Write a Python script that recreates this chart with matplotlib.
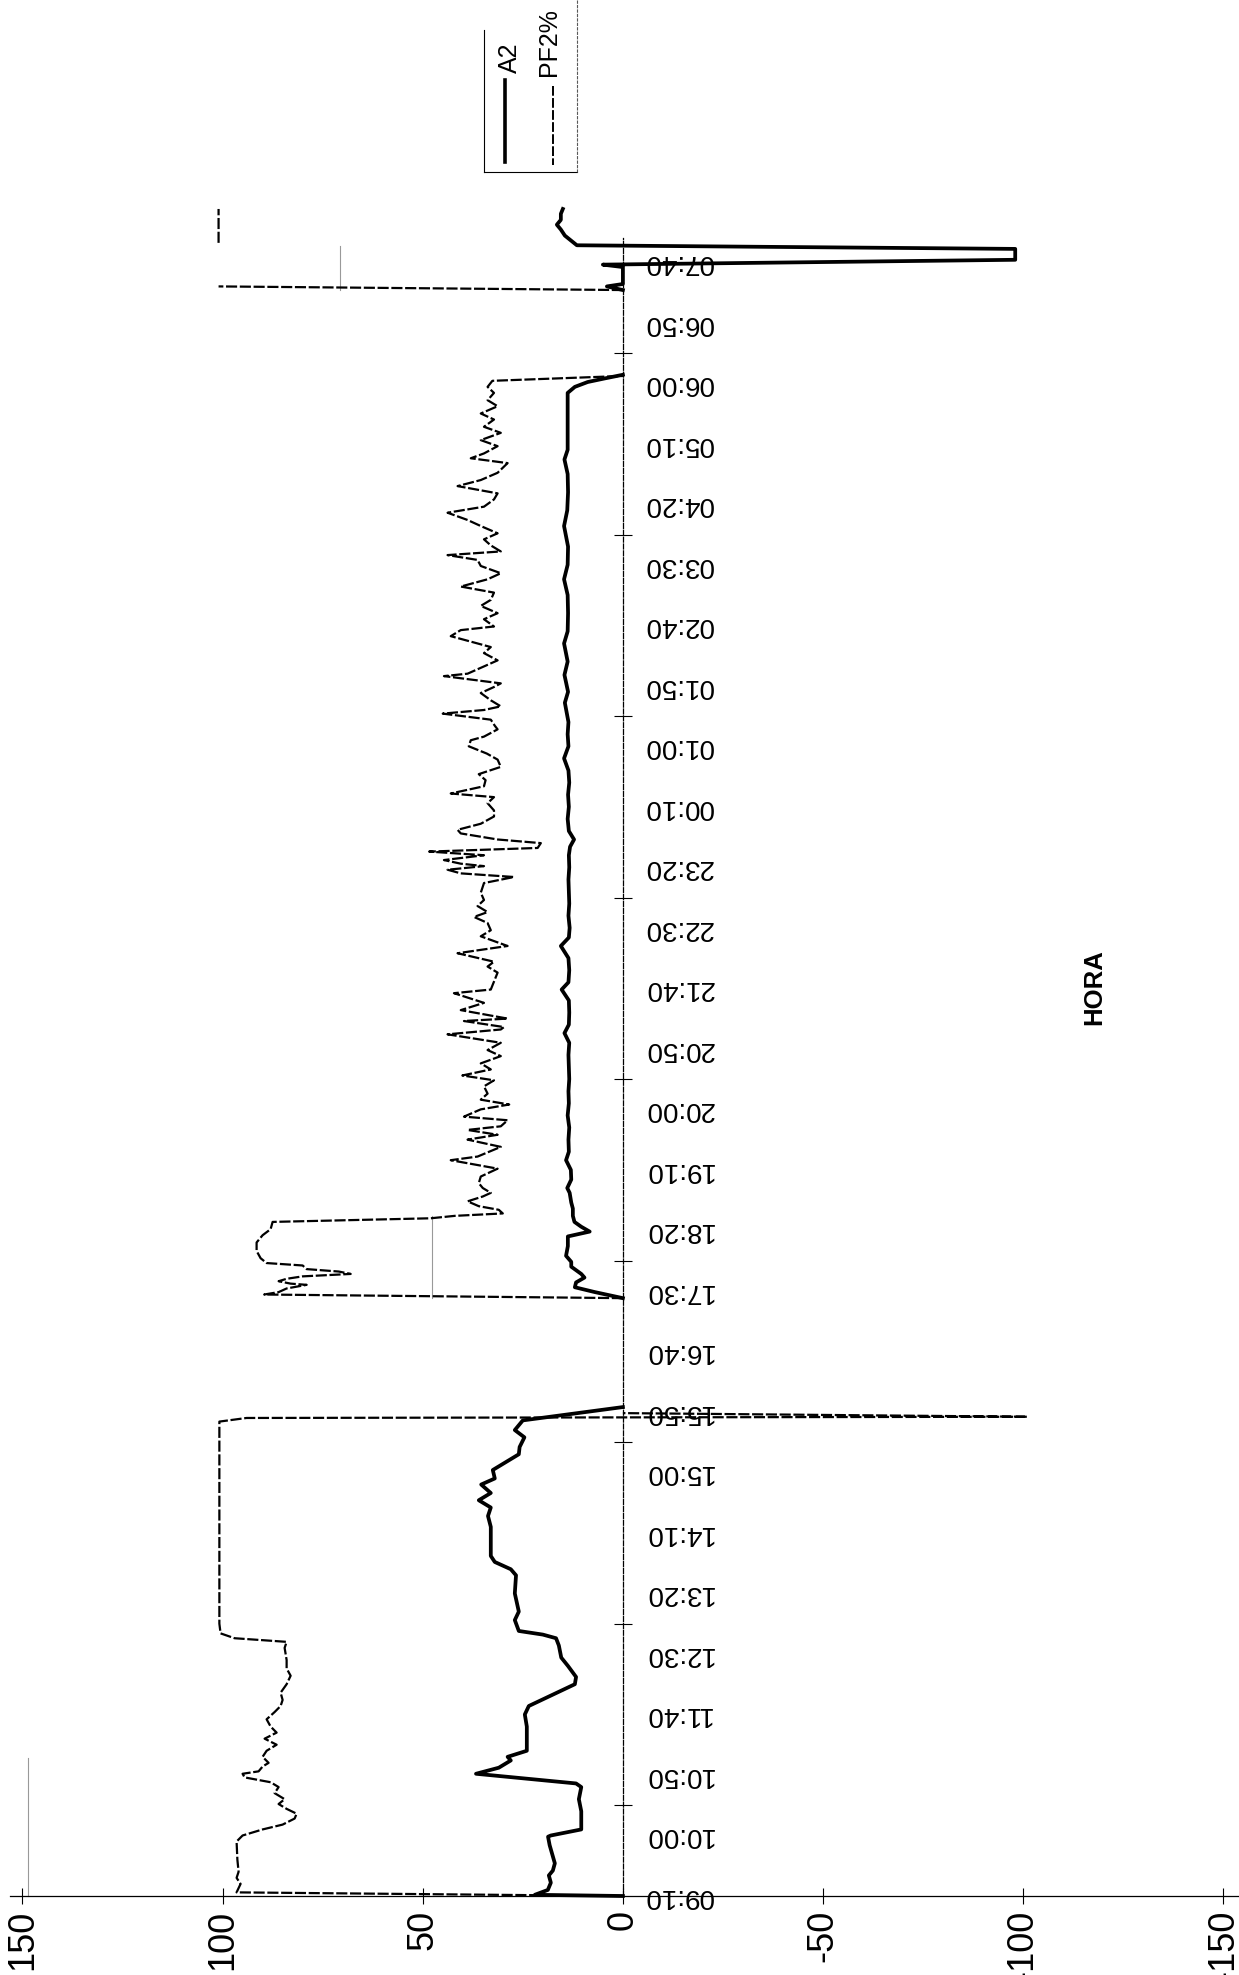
import matplotlib
matplotlib.use("Agg")
import matplotlib.pyplot as plt
from matplotlib.lines import Line2D
from matplotlib.ticker import FixedLocator

nan = float("nan")

# ---- axis data -------------------------------------------------------------
time_labels = ["09:10", "10:00", "10:50", "11:40", "12:30", "13:20", "14:10",
               "15:00", "15:50", "16:40", "17:30", "18:20", "19:10", "20:00",
               "20:50", "21:40", "22:30", "23:20", "00:10", "01:00", "01:50",
               "02:40", "03:30", "04:20", "05:10", "06:00", "06:50", "07:40"]
time_label_minutes = [50 * i for i in range(len(time_labels))]   # minutes after 09:10
minor_tick_minutes = [75 * i for i in range(19)]
value_ticks = [150, 100, 50, 0, -50, -100, -150]
value_labels = ["150", "100", "50", "0", "-50", "-100", "-150"]

# ---- series: (minutes after 09:10, value) ----------------------------------
a2_points = [
    (0, 0), (1, 22), (5, 18.75), (11, 18), (17, 18.5), (21, 17.5), (27, 17),
    (42, 18.3), (49, 18.7), (50, 18), (55, 10.4), (70, 10.4), (80, 11), (90, 10.4),
    (93, 11.7), (101, 36.7), (106, 31), (112, 28), (115, 28.8), (120, 24),
    (140, 24), (150, 24.5), (157, 23.5), (175, 12), (181, 11.7), (190, 13.7),
    (197, 15.4), (207, 16), (213, 16.7), (216, 20), (219, 26), (228, 27),
    (235, 26), (250, 27), (265, 26.7), (270, 28), (276, 32), (281, 33), (305, 33),
    (314, 33.7), (321, 33), (327, 36), (333, 33), (340, 35.4), (345, 32),
    (352, 32.5), (359, 29), (365, 26), (371, 25.8), (379, 24.6), (385, 27),
    (393, 25), (404, 0), (405, nan),
    (494, 0), (499, 7), (503, 12), (507, 11.7), (511, 9.6), (514, 10.4),
    (520, 12.9), (524, 12.9), (529, 14.2), (537, 13.75), (545, 13.75), (549, 8.3),
    (553, 10.4), (557, 12.1), (562, 12.5), (568, 12.5), (573, 12.9), (581, 13.3),
    (585, 13.9), (592, 12.9), (600, 13), (608, 14.2), (615, 13.5), (625, 13.6),
    (635, 13.4), (645, 13.8), (655, 13.5), (665, 13.6), (675, 13.4), (685, 13.5),
    (695, 13.6), (705, 13.4), (713, 14.6), (720, 13.5), (730, 13.4), (740, 13.5),
    (749, 15.3), (755, 13.6), (765, 13.4), (775, 13.6), (785, 15.5), (792, 13.5),
    (800, 13.3), (810, 13.6), (820, 13.4), (830, 13.5), (840, 13.6), (850, 13.4),
    (860, 13.5), (867, 13.2), (873, 12.2), (880, 13.5), (890, 13.8), (900, 13.5),
    (910, 13.7), (920, 13.4), (930, 13.6), (940, 14.7), (950, 13.6), (960, 13.8),
    (970, 13.6), (986, 14.5), (995, 13.7), (1009, 14.6), (1020, 13.8),
    (1035, 14.7), (1045, 13.8), (1060, 13.7), (1075, 13.8), (1088, 14.7),
    (1100, 13.8), (1115, 13.7), (1132, 14.7), (1145, 13.9), (1160, 13.7),
    (1175, 13.8), (1187, 14.6), (1195, 13.8), (1242, 13.8), (1247, 12),
    (1251, 8.8), (1254, 4.5), (1257, 0), (1258, nan),
    (1327, 0), (1330, 4), (1332, 0), (1346, 0), (1348, 5), (1352, -98),
    (1361, -98), (1364, 11.5), (1368, 13), (1372, 14.5), (1377, 15.5),
    (1381, 16.5), (1385, 15.5), (1390, 15.5), (1394, 15),
]

pf2_points = [
    (0, 0), (3, 96.5), (10, 95.5), (15, 96.5), (20, 96), (30, 96.3), (45, 96.5),
    (50, 95), (55, 90), (59, 85), (64, 82), (68, 81.5), (72, 84), (76, 86),
    (80, 84.5), (85, 87), (90, 86), (94, 88), (98, 94.5), (101, 95), (103, 91),
    (107, 90), (110, 88.5), (115, 90), (120, 89), (125, 86.5), (130, 89.5),
    (135, 86.5), (140, 88), (146, 89), (152, 87), (157, 85.5), (162, 85),
    (168, 85.5), (175, 84), (182, 83), (188, 84), (195, 84), (205, 84.5),
    (210, 84), (213, 97), (217, 100.5), (225, 100.8), (392, 100.8), (395, 94),
    (396, -101), (399, 0), (400, nan),
    (494, 0), (497, 89.6), (499, 86), (502, 84), (505, 79), (506, 83), (508, 86),
    (510, 84), (512, 80), (514, 68), (516, 71), (518, 79), (521, 80), (523, 89),
    (527, 90.5), (533, 91.5), (540, 91.5), (546, 90), (551, 88), (557, 87.5),
    (560, 48), (562, 42), (564, 30), (567, 31), (570, 36), (574, 38.8), (578, 35),
    (581, 33), (585, 35), (589, 36), (594.5, 35.5), (601, 31.3), (608, 43),
    (611, 36.3), (619, 30.5), (625, 38.8), (629, 31.3), (633, 38.8), (636, 30.5),
    (641, 28.8), (644, 39.7), (650, 35.5), (654, 28.4), (658, 35.5), (663, 33.8),
    (669, 34.7), (674, 32.2), (678, 40.1), (683, 33), (688, 35.5), (694, 30.5),
    (699, 33.8), (705, 30.5), (712, 43.8), (716, 30.5), (718, 29.7), (723, 39.7),
    (725, 28.8), (732, 40.5), (738, 34.7), (746, 42.2), (749, 33), (763, 31.3),
    (768, 33.8), (772, 32.2), (779, 41.3), (785, 28.8), (793, 35.5), (798, 33),
    (804, 33.8), (809, 37.2), (813, 33.8), (818, 36.3), (823, 34.7), (829, 35.5),
    (837, 34.7), (842, 27.2), (845, 40.5), (848, 43.8), (851, 34.7), (853, 40.5),
    (856, 44.7), (860, 34.7), (863, 48.4), (866, 21.3), (870, 20.5), (873, 31.3),
    (878, 40.5), (881, 41.3), (886, 35.5), (892, 32.2), (897, 32.2), (903, 33.8),
    (908, 32.2), (911, 43), (917, 34.7), (922, 34.3), (927, 36), (933, 30.5),
    (939, 31.3), (944, 34), (950, 38.5), (955, 38), (958, 34.7), (964, 31.3),
    (967, 32), (972, 33), (977, 45), (980, 34.7), (983, 30.5), (988, 33),
    (994, 35.5), (999, 32.2), (1002, 30.5), (1008, 44.7), (1010, 38.8),
    (1016, 34.7), (1021, 31.3), (1027, 34.7), (1032, 33), (1041, 43),
    (1046, 40.5), (1049, 32.2), (1055, 34.7), (1060, 31.3), (1066, 35.5),
    (1071, 33), (1077, 32.2), (1082, 40.5), (1088, 33.8), (1093, 30.5),
    (1099, 35.5), (1104, 36.3), (1108, 43.8), (1111, 30.5), (1116, 33),
    (1121, 34.7), (1126, 31.3), (1132, 35.5), (1137, 38.8), (1143, 43.8),
    (1148, 34.7), (1154, 32.2), (1159, 31.3), (1165, 41.3), (1170, 35.5),
    (1176, 31.3), (1184, 28.8), (1188, 38), (1192, 34.7), (1198, 31.3),
    (1203, 35.5), (1209, 30.5), (1214, 34.7), (1220, 32.2), (1225, 35.5),
    (1231, 31.3), (1236, 33.8), (1242, 32.2), (1247, 33.8), (1252, 32.6),
    (1256, 0), (1257, nan),
    (1327, 0), (1330, 101), (1331, nan), (1366, 101), (1394, 101),
]

# faint (scanned-out) line segments visible in the source
faint_points = [
    (0, 148.7), (114, 148.7), (115, nan),
    (494, 47.7), (562, 47.7), (563, nan),
    (1327, 70.7), (1363, 70.7),
]

# ---- figure ------------------------------------------------------------------
plt.rcParams["font.family"] = ["Liberation Sans", "DejaVu Sans"]
W, H = 1239, 1975
fig = plt.figure(figsize=(W / 100, H / 100), dpi=100)


def fx(px):
    return px / W


def fy(py):
    return 1 - py / H


ax = fig.add_axes([fx(10), fy(1896), fx(1239) - fx(10), fy(201.7) - fy(1896)])
ax.set_xlim(153.1, -153.9)
ax.set_ylim(0, 1400)

a2_t = [p[0] for p in a2_points]
a2_v = [p[1] for p in a2_points]
pf_t = [p[0] for p in pf2_points]
pf_v = [p[1] for p in pf2_points]
fa_t = [p[0] for p in faint_points]
fa_v = [p[1] for p in faint_points]

ax.plot(fa_v, fa_t, color="0.6", lw=0.8, clip_on=False)
ax.plot(pf_v, pf_t, color="black", lw=1.6, ls=(0, (5, 1.2)), clip_on=False)
ax.plot(a2_v, a2_t, color="black", lw=2.7, solid_joinstyle="round", clip_on=False)

# spines
ax.spines["top"].set_visible(False)
ax.spines["left"].set_visible(False)
ax.spines["right"].set_position(("data", 0))
ax.spines["right"].set_bounds(0, 1370)
ax.spines["right"].set_linestyle((0, (4, 1.5)))
ax.spines["right"].set_linewidth(0.9)
ax.spines["bottom"].set_linewidth(0.9)

# time axis (vertical)
ax.yaxis.tick_right()
ax.yaxis.set_major_locator(FixedLocator(time_label_minutes))
ax.set_yticklabels(time_labels, rotation=180, fontsize=20, va="center")
ax.tick_params(axis="y", which="major", length=0, pad=15)
ax.yaxis.set_minor_locator(FixedLocator(minor_tick_minutes))
ax.tick_params(axis="y", which="minor", direction="inout", length=13, width=0.8)

# value axis (horizontal)
ax.set_xticks(value_ticks)
ax.set_xticklabels(value_labels, rotation=90, fontsize=26, va="top")
ax.tick_params(axis="x", which="major", direction="inout", length=11.5, width=0.8, pad=4)

# axis title
fig.text(fx(1094), fy(987), "HORA", rotation=90, fontsize=18.5, fontweight="bold",
         ha="center", va="center")

# legend (drawn rotated, as in the source)
fig.add_artist(Line2D([fx(484), fx(484)], [fy(30), fy(172)], color="black", lw=0.8))
fig.add_artist(Line2D([fx(484), fx(577)], [fy(172), fy(172)], color="black", lw=0.8))
fig.add_artist(Line2D([fx(577), fx(577)], [fy(0), fy(172)], color="0.35", lw=0.8,
                      ls=(0, (3, 1))))
fig.add_artist(Line2D([fx(505), fx(505)], [fy(80), fy(162)], color="black", lw=2.6))
fig.add_artist(Line2D([fx(553), fx(553)], [fy(86), fy(165)], color="black", lw=1.4,
                      ls=(0, (5, 1.2))))
fig.text(fx(510), fy(58), "A2", rotation=90, fontsize=18, ha="center", va="center")
fig.text(fx(549), fy(42), "PF2%", rotation=90, fontsize=18, ha="center", va="center")

fig.savefig("out.png", dpi=100)
